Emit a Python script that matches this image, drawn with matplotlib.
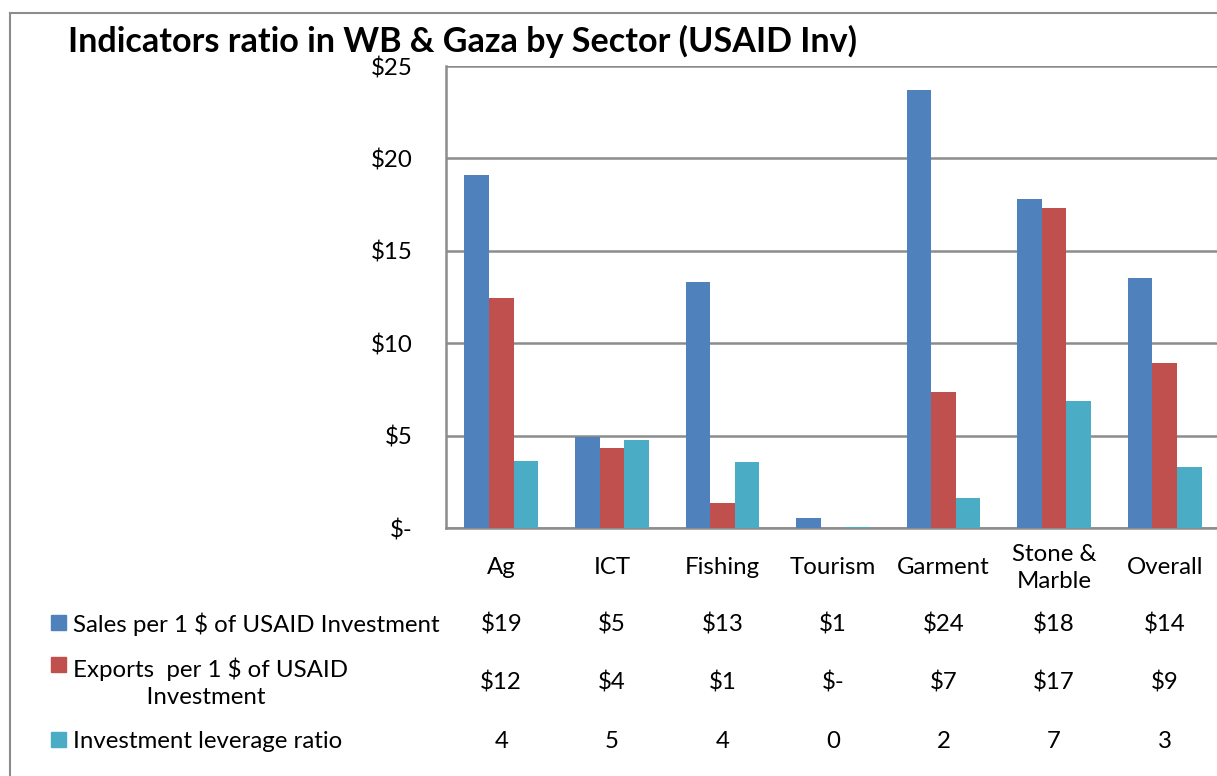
import matplotlib.pyplot as plt
import matplotlib.transforms as mtransforms
from matplotlib.patches import Rectangle
import numpy as np

plt.rcParams['font.family'] = ['Lato', 'DejaVu Sans']

# data
sectors = ['Ag', 'ICT', 'Fishing', 'Tourism', 'Garment', 'Stone &\nMarble', 'Overall']
sales = [19.10, 4.92, 13.31, 0.54, 23.70, 17.80, 13.53]
exports = [12.45, 4.33, 1.35, 0.0, 7.36, 17.32, 8.93]
leverage = [3.63, 4.76, 3.57, 0.08, 1.62, 6.87, 3.30]

series_names = ['Sales per 1 $ of USAID Investment',
                'Exports  per 1 $ of USAID\n            Investment',
                'Investment leverage ratio']
colors = ['#4F81BD', '#C0504D', '#4BACC6']

W, H = 1217, 776
fig = plt.figure(figsize=(W / 100, H / 100), dpi=100)

def fy(px):
    return 1 - px / H

ax = fig.add_axes([446 / W, fy(528), (1220 - 446) / W, (528 - 66) / H])

x = np.arange(len(sectors))
width = 0.222
for i, vals in enumerate([sales, exports, leverage]):
    ax.bar(x + (i - 1) * width, vals, width, color=colors[i], zorder=3)

ax.set_xlim(-0.5, len(sectors) - 0.5)
ax.set_ylim(0, 25)
ax.set_yticks([0, 5, 10, 15, 20, 25])
ax.set_yticklabels(['$-', '$5', '$10', '$15', '$20', '$25'])
ax.tick_params(axis='y', length=0, pad=24, labelsize=17.3)
ax.set_xticks([])
ax.grid(axis='y', color='#8c8c8c', linewidth=1.8, zorder=1)
for s in ['top', 'right']:
    ax.spines[s].set_visible(False)
for s in ['left', 'bottom']:
    ax.spines[s].set_color('#8c8c8c')
    ax.spines[s].set_linewidth(1.8)

# title
fig.text(68 / W, fy(41), 'Indicators ratio in WB & Gaza by Sector (USAID Inv)',
         fontsize=24.6, fontweight='bold', va='center', ha='left')

# data table under the chart
tr = mtransforms.blended_transform_factory(ax.transData, fig.transFigure)
for j, name in enumerate(sectors):
    fig.text(x[j], fy(568), name, transform=tr, ha='center', va='center',
             fontsize=17.3, linespacing=1.35)

def fmt_money(v):
    r = int(round(v))
    return '$-' if r == 0 else f'${r}'

rows_y = [624, 683, 741]
rows_vals = [[fmt_money(v) for v in sales],
             [fmt_money(v) for v in exports],
             [str(int(round(v))) for v in leverage]]
for r, yy in enumerate(rows_y):
    for j in range(len(sectors)):
        fig.text(x[j], fy(yy), rows_vals[r][j], transform=tr, ha='center',
                 va='center', fontsize=17.3)

# legend keys + row labels
key_y = [622, 664, 739]
label_y = [624, 683, 741]
for r in range(3):
    fig.patches.append(Rectangle((51 / W, fy(key_y[r] + 8)), 15 / W, 15 / H,
                                 transform=fig.transFigure, color=colors[r]))
    fig.text(73 / W, fy(label_y[r]), series_names[r], ha='left', va='center',
             fontsize=17.3, linespacing=1.35)

# outer chart border (only top and left visible in the crop)
fig.add_artist(plt.Line2D([10 / W, 10 / W], [0, fy(13)], color='#8c8c8c', lw=1.5))
fig.add_artist(plt.Line2D([10 / W, 1], [fy(13), fy(13)], color='#8c8c8c', lw=1.5))

fig.savefig('out.png', dpi=100)
